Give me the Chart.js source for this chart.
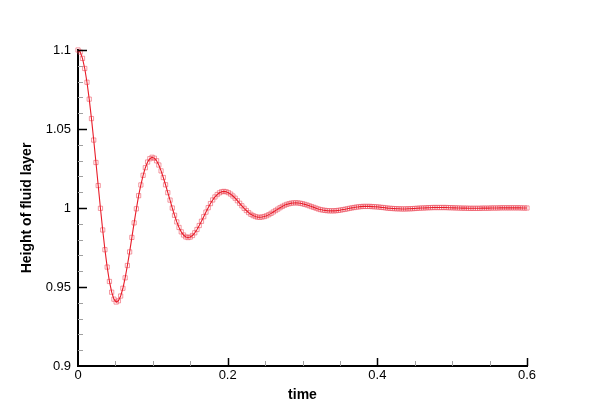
<!DOCTYPE html>
<html>
<head>
<meta charset="utf-8">
<script src="https://cdn.jsdelivr.net/npm/chart.js@4.4.1/dist/chart.umd.min.js"></script>
<style>
  html, body { margin: 0; padding: 0; background: #fff; }
  canvas { display: block; }
</style>
</head>
<body>
<canvas id="myChart" width="600" height="412"></canvas>
<script>
// time samples (s)
const times = [
  0, 0.003, 0.006, 0.009, 0.012, 0.015, 0.018, 0.021, 0.024, 0.027,
  0.03, 0.033, 0.036, 0.039, 0.042, 0.045, 0.048, 0.051, 0.054, 0.057,
  0.06, 0.063, 0.066, 0.069, 0.072, 0.075, 0.078, 0.081, 0.084, 0.087,
  0.09, 0.093, 0.096, 0.099, 0.102, 0.105, 0.108, 0.111, 0.114, 0.117,
  0.12, 0.123, 0.126, 0.129, 0.132, 0.135, 0.138, 0.141, 0.144, 0.147,
  0.15, 0.153, 0.156, 0.159, 0.162, 0.165, 0.168, 0.171, 0.174, 0.177,
  0.18, 0.183, 0.186, 0.189, 0.192, 0.195, 0.198, 0.201, 0.204, 0.207,
  0.21, 0.213, 0.216, 0.219, 0.222, 0.225, 0.228, 0.231, 0.234, 0.237,
  0.24, 0.243, 0.246, 0.249, 0.252, 0.255, 0.258, 0.261, 0.264, 0.267,
  0.27, 0.273, 0.276, 0.279, 0.282, 0.285, 0.288, 0.291, 0.294, 0.297,
  0.3, 0.303, 0.306, 0.309, 0.312, 0.315, 0.318, 0.321, 0.324, 0.327,
  0.33, 0.333, 0.336, 0.339, 0.342, 0.345, 0.348, 0.351, 0.354, 0.357,
  0.36, 0.363, 0.366, 0.369, 0.372, 0.375, 0.378, 0.381, 0.384, 0.387,
  0.39, 0.393, 0.396, 0.399, 0.402, 0.405, 0.408, 0.411, 0.414, 0.417,
  0.42, 0.423, 0.426, 0.429, 0.432, 0.435, 0.438, 0.441, 0.444, 0.447,
  0.45, 0.453, 0.456, 0.459, 0.462, 0.465, 0.468, 0.471, 0.474, 0.477,
  0.48, 0.483, 0.486, 0.489, 0.492, 0.495, 0.498, 0.501, 0.504, 0.507,
  0.51, 0.513, 0.516, 0.519, 0.522, 0.525, 0.528, 0.531, 0.534, 0.537,
  0.54, 0.543, 0.546, 0.549, 0.552, 0.555, 0.558, 0.561, 0.564, 0.567,
  0.57, 0.573, 0.576, 0.579, 0.582, 0.585, 0.588, 0.591, 0.594, 0.597,
  0.6
];

// height of the fluid layer
const heights = [
  1.1, 1.0987, 1.0947, 1.0883, 1.0796, 1.0689, 1.0566, 1.0430, 1.0288, 1.0142,
  0.9998, 0.9861, 0.9736, 0.9626, 0.9535, 0.9467, 0.9423, 0.9405, 0.9413, 0.9443,
  0.9492, 0.9558, 0.9636, 0.9722, 0.9814, 0.9906, 0.9995, 1.0078, 1.0146, 1.0207,
  1.0255, 1.0291, 1.0312, 1.0321, 1.0315, 1.0299, 1.0272, 1.0235, 1.0193, 1.0147,
  1.0097, 1.0050, 1.0000, 0.9954, 0.9912, 0.9877, 0.9849, 0.9829, 0.9817, 0.9813,
  0.9816, 0.9826, 0.9843, 0.9864, 0.9889, 0.9916, 0.9945, 0.9974, 1.0002, 1.0028,
  1.0051, 1.0070, 1.0085, 1.0096, 1.0103, 1.0105, 1.0103, 1.0097, 1.0088, 1.0076,
  1.0062, 1.0046, 1.0030, 1.0014, 0.9998, 0.9984, 0.9971, 0.9960, 0.9952, 0.9946,
  0.9942, 0.9941, 0.9943, 0.9946, 0.9951, 0.9958, 0.9966, 0.9975, 0.9984, 0.9993,
  1.0002, 1.0010, 1.0017, 1.0023, 1.0027, 1.0031, 1.0032, 1.0033, 1.0032, 1.0030,
  1.0027, 1.0023, 1.0019, 1.0014, 1.0009, 1.0004, 0.9999, 0.9994, 0.9990, 0.9987,
  0.9985, 0.9983, 0.9982, 0.9982, 0.9982, 0.9983, 0.9985, 0.9987, 0.9990, 0.9992,
  0.9995, 0.9998, 1.0001, 1.0003, 1.0006, 1.0007, 1.0009, 1.0010, 1.0010, 1.0010,
  1.0010, 1.0009, 1.0008, 1.0007, 1.0006, 1.0004, 1.0003, 1.0001, 0.9999, 0.9998,
  0.9997, 0.9996, 0.9995, 0.9995, 0.9994, 0.9994, 0.9994, 0.9995, 0.9995, 0.9996,
  0.9997, 0.9998, 0.9999, 1.0000, 1.0000, 1.0001, 1.0002, 1.0002, 1.0003, 1.0003,
  1.0003, 1.0003, 1.0003, 1.0003, 1.0003, 1.0002, 1.0002, 1.0001, 1.0001, 1.0000,
  1.0000, 0.9999, 0.9999, 0.9999, 0.9998, 0.9998, 0.9998, 0.9998, 0.9998, 0.9998,
  0.9999, 0.9999, 0.9999, 0.9999, 1.0000, 1.0000, 1.0000, 1.0000, 1.0001, 1.0001,
  1.0001, 1.0001, 1.0001, 1.0001, 1.0001, 1.0001, 1.0001, 1.0001, 1.0000, 1.0000,
  1.0000
];

const xTicks = [0, 0.2, 0.4, 0.6];
const xMinor = [0.05, 0.1, 0.15, 0.25, 0.3, 0.35, 0.45, 0.5, 0.55];
const yTicks = [0.9, 0.95, 1, 1.05, 1.1];
const yMinor = [0.91, 0.92, 0.93, 0.94, 0.96, 0.97, 0.98, 0.99,
  1.01, 1.02, 1.03, 1.04, 1.06, 1.07, 1.08, 1.09];

const points = times.map((t, i) => ({x: t, y: heights[i]}));
const fontFamily = '"Liberation Sans", Arial, Helvetica, sans-serif';
const fmt = (v) => String(Number(v.toFixed(2)));

// tecplot style ticks pointing into the plot
const insideTicks = {
  id: 'insideTicks',
  afterDraw(chart) {
    const {ctx, chartArea} = chart;
    const xs = chart.scales.x;
    const ys = chart.scales.y;
    const drawX = (vals, len, color, w) => {
      ctx.strokeStyle = color;
      ctx.lineWidth = w;
      vals.forEach((v) => {
        const px = Math.round(xs.getPixelForValue(v)) + 0.5;
        ctx.beginPath();
        ctx.moveTo(px, chartArea.bottom);
        ctx.lineTo(px, chartArea.bottom - len);
        ctx.stroke();
      });
    };
    const drawY = (vals, len, color, w) => {
      ctx.strokeStyle = color;
      ctx.lineWidth = w;
      vals.forEach((v) => {
        const py = Math.round(ys.getPixelForValue(v)) + 0.5;
        ctx.beginPath();
        ctx.moveTo(chartArea.left, py);
        ctx.lineTo(chartArea.left + len, py);
        ctx.stroke();
      });
    };
    ctx.save();
    drawX(xMinor, 5, '#a0a0a0', 1);
    drawY(yMinor, 5, '#a0a0a0', 1);
    drawX(xTicks.slice(1), 8, '#000', 1.5);
    drawY(yTicks.slice(1), 9, '#000', 1.5);
    ctx.restore();
  }
};

const ctx = document.getElementById('myChart');

const mychart = new Chart(ctx, {
  type: 'line',
  data: {
    datasets: [{
      data: points,
      borderColor: 'rgb(232, 28, 40)',
      borderWidth: 1.1,
      pointRadius: 0,
      tension: 0,
      clip: false,
      order: 0
    }, {
      data: points,
      showLine: false,
      pointStyle: 'rect',
      pointRadius: 3,
      pointBorderWidth: 1,
      pointBorderColor: 'rgba(235, 70, 85, 0.55)',
      pointBackgroundColor: 'rgba(255, 255, 255, 0)',
      clip: false,
      order: 1
    }]
  },
  options: {
    responsive: false,
    animation: false,
    devicePixelRatio: 1,
    layout: {padding: {left: 0, right: 73, top: 50, bottom: 0}},
    plugins: {
      legend: {display: false},
      tooltip: {enabled: false}
    },
    scales: {
      x: {
        type: 'linear',
        min: 0,
        max: 0.6,
        afterBuildTicks: (scale) => { scale.ticks = xTicks.map((v) => ({value: v})); },
        afterFit: (scale) => { scale.height = 46; },
        grid: {display: false, drawTicks: false},
        border: {display: true, color: '#000', width: 2},
        ticks: {
          padding: 2,
          maxRotation: 0,
          color: '#000',
          font: {family: fontFamily, size: 13},
          callback: (v) => fmt(v)
        },
        title: {
          display: true,
          text: 'time',
          color: '#000',
          font: {family: fontFamily, size: 14, weight: 'bold'},
          padding: {top: 0, bottom: 8}
        }
      },
      y: {
        type: 'linear',
        min: 0.9,
        max: 1.1,
        afterBuildTicks: (scale) => { scale.ticks = yTicks.map((v) => ({value: v})); },
        afterFit: (scale) => { scale.width = 78; },
        grid: {display: false, drawTicks: false},
        border: {display: true, color: '#000', width: 2},
        ticks: {
          padding: 7,
          color: '#000',
          font: {family: fontFamily, size: 13},
          callback: (v) => fmt(v)
        },
        title: {
          display: true,
          text: 'Height of fluid layer',
          color: '#000',
          font: {family: fontFamily, size: 14, weight: 'bold'},
          padding: {top: 19, bottom: 0}
        }
      }
    }
  },
  plugins: [insideTicks]
});
</script>
</body>
</html>
